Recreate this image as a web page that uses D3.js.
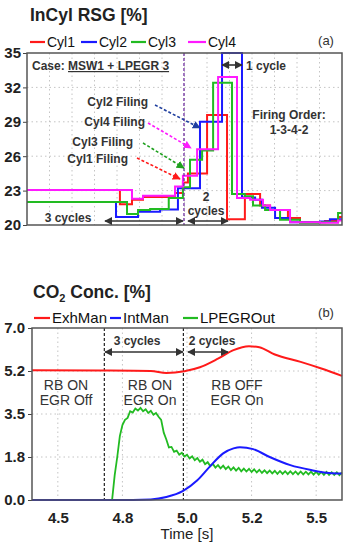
<!DOCTYPE html>
<html>
<head>
<meta charset="utf-8">
<script src="https://cdn.jsdelivr.net/npm/d3@7"></script>
<style>
  body { margin: 0; background: #fff; }
  svg { display: block; font-family: "Liberation Sans", Arial, sans-serif; }
</style>
</head>
<body>
<div class="main"></div>
<script>
// ---- data: (a) in-cylinder RSG [%], step traces
const cyl1T = [4.400,4.754,4.800,4.842,4.964,4.994,5.013,5.086,5.162,5.230,5.288,5.326,5.394,5.440,5.535,5.585,5.600];
const cyl1V = [23.05,21.8,22.2,22.45,22.8,23.7,24.5,29.6,20.5,22.7,21.7,21.3,20.6,20.25,20.35,20.7,20.7];
const cyl2T = [4.400,4.739,4.823,4.907,4.975,5.059,5.143,5.219,5.269,5.295,5.345,5.402,5.516,5.554,5.600];
const cyl2V = [22.0,20.7,21.15,21.35,23.2,29.0,35.0,22.4,22.2,21.5,20.6,20.25,20.3,20.5,20.5];
const cyl3T = [4.400,4.781,4.823,4.869,4.940,4.994,5.021,5.067,5.109,5.181,5.230,5.261,5.307,5.364,5.440,5.516,5.585,5.600];
const cyl3V = [22.0,20.95,21.3,21.4,22.35,23.3,25.7,26.5,32.4,22.7,22.5,21.7,21.3,20.45,20.2,20.25,21.05,21.05];
const cyl4T = [4.400,4.800,4.842,4.964,4.994,5.048,5.128,5.200,5.250,5.299,5.326,5.402,5.516,5.585,5.600];
const cyl4V = [23.05,22.3,22.55,23.35,24.3,26.6,32.9,22.35,22.2,21.7,21.3,20.25,20.2,20.4,20.4];

// ---- data: (b) CO2 concentration [%]
const exhT = [4.40,4.66,4.86,4.92,4.99,5.05,5.12,5.18,5.24,5.28,5.34,5.44,5.52,5.60];
const exhV = [5.28,5.27,5.25,5.17,5.24,5.40,5.75,6.10,6.26,6.22,5.92,5.62,5.35,5.05];
const intT = [4.40,4.79,4.86,4.92,4.985,5.04,5.09,5.14,5.18,5.205,5.256,5.32,5.40,5.48,5.55,5.60];
const intV = [0,0,0.02,0.12,0.37,0.8,1.38,1.9,2.1,2.15,2.07,1.75,1.42,1.22,1.1,1.08];
const egrT = [4.40,4.71,4.72,4.73,4.74,4.75,4.76,4.77,4.78,4.79,4.80,4.81,4.82,4.83,4.84,4.85,4.86,4.87,4.88,4.89,
  4.90,4.91,4.92,4.93,4.94,4.95,4.96,4.97,4.98,4.99,5.00,5.01,5.02,5.03,5.04,5.05,5.06,5.07,5.08,5.09,
  5.10,5.11,5.12,5.13,5.14,5.15,5.16,5.17,5.18,5.19,5.20,5.21,5.22,5.23,5.24,5.25,5.26,5.27,5.28,5.29,
  5.30,5.31,5.32,5.33,5.34,5.35,5.36,5.37,5.38,5.39,5.40,5.41,5.42,5.43,5.44,5.45,5.46,5.47,5.48,5.49,
  5.50,5.51,5.52,5.53,5.54,5.55,5.56,5.57,5.58,5.59,5.60];
const egrV = [0,0,1.0,1.75,2.6,3.05,3.26,3.34,3.61,3.56,3.72,3.64,3.75,3.61,3.69,3.54,3.63,3.47,3.54,3.39,
  3.26,2.74,2.46,2.14,2.16,1.96,2.01,1.84,1.92,1.77,1.84,1.69,1.78,1.62,1.71,1.56,1.64,1.46,1.54,1.38,
  1.47,1.32,1.42,1.29,1.40,1.26,1.36,1.22,1.33,1.20,1.31,1.17,1.28,1.16,1.27,1.14,1.25,1.12,1.23,1.10,
  1.21,1.09,1.20,1.08,1.19,1.06,1.18,1.06,1.17,1.05,1.17,1.05,1.16,1.04,1.16,1.04,1.15,1.04,1.15,1.03,
  1.15,1.03,1.14,1.02,1.14,1.02,1.13,1.02,1.13,1.01,1.12];

// ---- ticks
const aYTicks = [20,23,26,29,32,35];
const bYTicks = [0,1.75,3.5,5.25,7];
const bYLabels = ["0.0","1.8","3.5","5.2","7.0"];
const bXTicks = [4.5,4.75,5.0,5.25,5.5];
const bXLabels = ["4.5","4.8","5.0","5.2","5.5"];

const RED = "#ff1a1a", BLUE = "#1a1aff", GREEN = "#22bb22", MAG = "#ff1aff";
const TXT = "#333";

const w = 344, h = 550;
const svg = d3.select(".main").append("svg").attr("width", w).attr("height", h);
svg.append("rect").attr("width", w).attr("height", h).attr("fill", "#fff");

// markers
const defs = svg.append("defs");
function marker(id, color) {
  defs.append("marker")
    .attr("id", id)
    .attr("viewBox", "0 0 10 10")
    .attr("refX", 9).attr("refY", 5)
    .attr("markerUnits", "userSpaceOnUse")
    .attr("markerWidth", 8).attr("markerHeight", 8)
    .attr("orient", "auto-start-reverse")
    .append("path").attr("d", "M0,0 L10,5 L0,10 z").attr("fill", color);
}
marker("ah", "#333");
marker("ahNavy", "#1f3f9f");
marker("ahMag", MAG);
marker("ahGreen", "#1ea01e");
marker("ahRed", RED);

// ================= (a) =================
const xA = d3.scaleLinear().domain([4.4, 5.6]).range([27, 342]);
const yA = d3.scaleLinear().domain([20, 35]).range([225, 53]);

svg.append("text").attr("x", 30).attr("y", 21)
  .attr("font-size", 17.5).attr("font-weight", "bold").attr("fill", "#222")
  .text("InCyl RSG [%]");

// legend (a)
const legA = [["Cyl1", RED, 30, 45], ["Cyl2", BLUE, 81, 97], ["Cyl3", GREEN, 131, 146], ["Cyl4", MAG, 188, 206]];
legA.forEach(d => {
  svg.append("line").attr("x1", d[2]).attr("x2", d[3]).attr("y1", 42).attr("y2", 42)
    .attr("stroke", d[1]).attr("stroke-width", 2.2);
  svg.append("text").attr("x", d[3] + 2).attr("y", 47).attr("font-size", 14).attr("fill", "#111").text(d[0]);
});
svg.append("text").attr("x", 326).attr("y", 45).attr("text-anchor", "middle")
  .attr("font-size", 13).attr("fill", TXT).text("(a)");

// grid (a)
const gA = svg.append("g");
gA.selectAll("line.v").data(d3.range(1, 14).map(i => 4.4 + i * 1.2 / 14)).enter().append("line")
  .attr("x1", d => xA(d)).attr("x2", d => xA(d)).attr("y1", 53).attr("y2", 225)
  .attr("stroke", "#c4c4c4").attr("stroke-dasharray", "1.5,3");
gA.selectAll("line.h").data(aYTicks.slice(1, -1)).enter().append("line")
  .attr("x1", 27).attr("x2", 342).attr("y1", d => yA(d)).attr("y2", d => yA(d))
  .attr("stroke", "#c4c4c4").attr("stroke-dasharray", "1.5,3");

svg.append("g").attr("transform", "translate(27,0)")
  .call(d3.axisLeft(yA).tickValues(aYTicks).tickSize(4).tickPadding(2).tickSizeOuter(0))
  .call(g => g.select(".domain").remove())
  .call(g => g.selectAll("line").attr("stroke", "#444"))
  .call(g => g.selectAll("text").attr("font-size", 15).attr("font-weight", "bold").attr("fill", "#222")
    .attr("font-family", "Liberation Sans, Arial, sans-serif"));

defs.append("clipPath").attr("id", "clipA").append("rect").attr("x", 27).attr("y", 52).attr("width", 315).attr("height", 174);

const stepLine = d3.line().x(d => xA(d[0])).y(d => yA(d[1])).curve(d3.curveStepAfter);
const cyls = [[cyl1T, cyl1V, RED], [cyl2T, cyl2V, BLUE], [cyl3T, cyl3V, GREEN], [cyl4T, cyl4V, MAG]];
const linesA = svg.append("g").attr("clip-path", "url(#clipA)");
cyls.forEach(c => {
  linesA.append("path").datum(d3.zip(c[0], c[1])).attr("d", stepLine)
    .attr("fill", "none").attr("stroke", c[2]).attr("stroke-width", 2);
});

// purple dashed line
svg.append("line").attr("x1", xA(4.998)).attr("x2", xA(4.998)).attr("y1", 53).attr("y2", 225)
  .attr("stroke", "#7030a0").attr("stroke-width", 1.3).attr("stroke-dasharray", "3,2");

svg.append("rect").attr("x", 27).attr("y", 53).attr("width", 315).attr("height", 172)
  .attr("fill", "none").attr("stroke", "#555").attr("stroke-width", 1.5);

// annotations (a)
const caseT = svg.append("text").attr("x", 32).attr("y", 70).attr("font-size", 12)
  .attr("font-weight", "bold").attr("fill", TXT);
caseT.append("tspan").text("Case: ");
caseT.append("tspan").attr("text-decoration", "underline").text("MSW1 + LPEGR 3");

function btext(x, y, s, anchor, size, weight) {
  svg.append("text").attr("x", x).attr("y", y).attr("text-anchor", anchor || "start")
    .attr("font-size", size || 12).attr("font-weight", weight || "bold").attr("fill", TXT).text(s);
}
function arrow(x1, y1, x2, y2, id, color, dash, both) {
  const l = svg.append("line").attr("x1", x1).attr("y1", y1).attr("x2", x2).attr("y2", y2)
    .attr("stroke", color).attr("stroke-width", 1.6).attr("marker-end", "url(#" + id + ")");
  if (dash) l.attr("stroke-dasharray", "3,2");
  if (both) l.attr("marker-start", "url(#" + id + ")");
}

arrow(222, 65, 242, 65, "ah", "#333", false, true);
btext(246, 70, "1 cycle");

btext(148, 106, "Cyl2 Filing", "end");
btext(145, 126, "Cyl4 Filing", "end");
btext(133, 146, "Cyl3 Filing", "end");
btext(128, 163, "Cyl1 Filing", "end");
arrow(155, 105, 200, 128, "ahNavy", "#1f3f9f", true);
arrow(148, 123, 191, 148, "ahMag", MAG, true);
arrow(143, 143, 184, 168, "ahGreen", "#1ea01e", true);
arrow(137, 158, 180, 179, "ahRed", RED, true);

btext(289, 119, "Firing Order:", "middle");
btext(289, 134, "1-3-4-2", "middle");

btext(68, 222, "3 cycles", "middle");
arrow(105, 221, 183, 221, "ah", "#333", false, true);
btext(206, 201, "2", "middle");
btext(206, 215, "cycles", "middle");
arrow(188, 221, 228, 221, "ah", "#333", false, true);

// ================= (b) =================
const xB = d3.scaleLinear().domain([4.4, 5.6]).range([32, 342]);
const yB = d3.scaleLinear().domain([0, 7]).range([500, 328]);

const co2 = svg.append("text").attr("x", 33).attr("y", 298).attr("font-size", 17.5)
  .attr("font-weight", "bold").attr("fill", "#222");
co2.append("tspan").text("CO");
co2.append("tspan").attr("font-size", 11).attr("dy", 4).text("2");
co2.append("tspan").attr("dy", -4).text(" Conc. [%]");

const legB = [["ExhMan", RED, 34, 50], ["IntMan", BLUE, 110, 121], ["LPEGROut", GREEN, 183, 198]];
legB.forEach(d => {
  svg.append("line").attr("x1", d[2]).attr("x2", d[3]).attr("y1", 318).attr("y2", 318)
    .attr("stroke", d[1]).attr("stroke-width", 2.2);
  svg.append("text").attr("x", d[3] + 2).attr("y", 323).attr("font-size", 15).attr("fill", "#111").text(d[0]);
});
svg.append("text").attr("x", 326).attr("y", 317).attr("text-anchor", "middle")
  .attr("font-size", 13).attr("fill", TXT).text("(b)");

const gB = svg.append("g");
gB.selectAll("line.v").data(bXTicks).enter().append("line")
  .attr("x1", d => xB(d)).attr("x2", d => xB(d)).attr("y1", 328).attr("y2", 500)
  .attr("stroke", "#c4c4c4").attr("stroke-dasharray", "1.5,3");
gB.selectAll("line.h").data(bYTicks.slice(1, -1)).enter().append("line")
  .attr("x1", 32).attr("x2", 342).attr("y1", d => yB(d)).attr("y2", d => yB(d))
  .attr("stroke", "#c4c4c4").attr("stroke-dasharray", "1.5,3");

svg.append("g").attr("transform", "translate(32,0)")
  .call(d3.axisLeft(yB).tickValues(bYTicks).tickFormat((d, i) => bYLabels[i]).tickSize(4).tickPadding(3).tickSizeOuter(0))
  .call(g => g.select(".domain").remove())
  .call(g => g.selectAll("line").attr("stroke", "#444"))
  .call(g => g.selectAll("text").attr("font-size", 15).attr("font-weight", "bold").attr("fill", "#222")
    .attr("font-family", "Liberation Sans, Arial, sans-serif"));

svg.append("g").attr("transform", "translate(0,500)")
  .call(d3.axisBottom(xB).tickValues(bXTicks).tickFormat((d, i) => bXLabels[i]).tickSize(0).tickPadding(12))
  .call(g => g.select(".domain").remove())
  .call(g => g.selectAll("text").attr("font-size", 15).attr("font-weight", "bold").attr("fill", "#222")
    .attr("font-family", "Liberation Sans, Arial, sans-serif"));

svg.append("text").attr("x", 187).attr("y", 539).attr("text-anchor", "middle")
  .attr("font-size", 15).attr("fill", "#222").text("Time [s]");

// dashed phase lines
[4.68, 4.986].forEach(t => {
  svg.append("line").attr("x1", xB(t)).attr("x2", xB(t)).attr("y1", 328).attr("y2", 500)
    .attr("stroke", "#222").attr("stroke-width", 1.2).attr("stroke-dasharray", "3,2");
});

const smooth = d3.line().x(d => xB(d[0])).y(d => yB(d[1])).curve(d3.curveMonotoneX);
const lin = d3.line().x(d => xB(d[0])).y(d => yB(d[1]));
svg.append("path").datum(d3.zip(exhT, exhV)).attr("d", smooth)
  .attr("fill", "none").attr("stroke", RED).attr("stroke-width", 2);
svg.append("path").datum(d3.zip(egrT, egrV)).attr("d", lin)
  .attr("fill", "none").attr("stroke", GREEN).attr("stroke-width", 1.8);
svg.append("path").datum(d3.zip(intT, intV)).attr("d", smooth)
  .attr("fill", "none").attr("stroke", BLUE).attr("stroke-width", 2);

svg.append("rect").attr("x", 32).attr("y", 328).attr("width", 310).attr("height", 172)
  .attr("fill", "none").attr("stroke", "#555").attr("stroke-width", 1.5);

btext(137, 345, "3 cycles", "middle");
arrow(105, 352, 183, 352, "ah", "#333", false, true);
btext(212, 345, "2 cycles", "middle");
arrow(188, 352, 228, 352, "ah", "#333", false, true);

btext(66, 390, "RB ON", "middle", 14, "normal");
btext(66, 405, "EGR Off", "middle", 14, "normal");
btext(150, 390, "RB ON", "middle", 14, "normal");
btext(150, 405, "EGR On", "middle", 14, "normal");
btext(237, 390, "RB OFF", "middle", 14, "normal");
btext(237, 405, "EGR On", "middle", 14, "normal");
</script>
</body>
</html>
